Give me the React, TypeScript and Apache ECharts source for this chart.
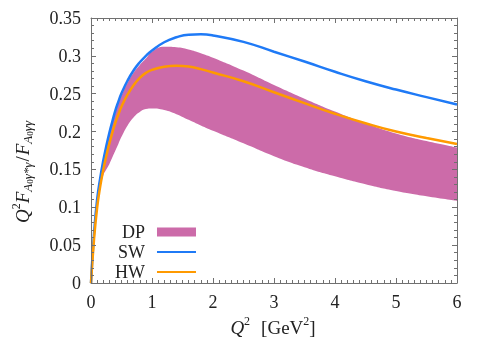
import React, { useEffect, useRef } from "react";
import * as echarts from "echarts";

// Q^2 sample points [GeV^2]
const q2 = [0, 0.05, 0.1, 0.15, 0.2, 0.25, 0.3, 0.35, 0.4, 0.45, 0.5, 0.6, 0.7, 0.8, 0.9, 1.0, 1.2, 1.4, 1.6, 1.8, 2.0, 2.5, 3.0, 3.5, 4.0, 4.5, 5.0, 5.5, 6.0];

// SW model
const sw = [0, 0.066, 0.11, 0.138, 0.161, 0.1805, 0.198, 0.2135, 0.228, 0.2398, 0.2505, 0.2675, 0.281, 0.2915, 0.3, 0.307, 0.318, 0.3245, 0.328, 0.3285, 0.327, 0.3185, 0.3055, 0.2925, 0.279, 0.2665, 0.2555, 0.2455, 0.2357];

// HW model
const hw = [0, 0.058, 0.099, 0.127, 0.149, 0.1675, 0.184, 0.1985, 0.212, 0.2228, 0.233, 0.249, 0.2615, 0.271, 0.2775, 0.2815, 0.2855, 0.2868, 0.2858, 0.2825, 0.278, 0.2665, 0.252, 0.2375, 0.2235, 0.211, 0.2, 0.1915, 0.1835];

// DP band: lower and upper edges
const dpLower = [0, 0.055, 0.095, 0.123, 0.142, 0.15, 0.157, 0.166, 0.175, 0.184, 0.193, 0.208, 0.219, 0.226, 0.2298, 0.2305, 0.2285, 0.223, 0.2155, 0.208, 0.201, 0.1845, 0.1675, 0.153, 0.141, 0.1305, 0.1215, 0.1145, 0.1085];
const dpUpper = [0, 0.062, 0.106, 0.135, 0.158, 0.1775, 0.195, 0.2105, 0.225, 0.237, 0.2475, 0.2645, 0.278, 0.288, 0.2965, 0.3055, 0.312, 0.3115, 0.3085, 0.3035, 0.2975, 0.2805, 0.2615, 0.2435, 0.2265, 0.211, 0.1975, 0.1875, 0.179];

const xTicks = [0, 1, 2, 3, 4, 5, 6];
const yTicks = [0, 0.05, 0.1, 0.15, 0.2, 0.25, 0.3, 0.35];

const PINK = "#cc6ba9";
const BLUE = "#1f7af6";
const ORANGE = "#ff9a00";
const FRAME = "#707070";
const TEXT = "#222";
const FONT = "'Liberation Serif', 'DejaVu Serif', serif";

export default function App() {
  const ref = useRef<HTMLDivElement>(null);

  useEffect(() => {
    if (!ref.current) return;
    const chart = echarts.init(ref.current, undefined, { renderer: "svg" });

    const axisCommon = (show: boolean, split: number) => ({
      z: 6,
      axisLine: { show: true, onZero: false, lineStyle: { color: FRAME, width: 1 } },
      axisTick: { show: true, inside: true, length: 5, lineStyle: { color: FRAME } },
      minorTick: { show: true, splitNumber: split, length: 3, lineStyle: { color: FRAME } },
      splitLine: { show: false },
      axisLabel: {
        show,
        color: TEXT,
        fontFamily: FONT,
        fontSize: 18,
        margin: 10,
        formatter: (v: number) => String(+v.toFixed(2)),
      },
    });

    const xMin = xTicks[0];
    const xMax = xTicks[xTicks.length - 1];
    const yMin = yTicks[0];
    const yMax = yTicks[yTicks.length - 1];

    const xy = (ys: number[]) => q2.map((x, i) => [x, ys[i]]);
    const lineCommon = { smooth: 0.5, symbol: "none" };

    chart.setOption({
      animation: false,
      grid: { left: 91, right: 34, top: 18, bottom: 60 },
      xAxis: [
        { type: "value", position: "bottom", min: xMin, max: xMax, interval: 1, ...axisCommon(true, 10) },
        { type: "value", position: "top", min: xMin, max: xMax, interval: 1, ...axisCommon(false, 10) },
      ],
      yAxis: [
        { type: "value", position: "left", min: yMin, max: yMax, interval: 0.05, ...axisCommon(true, 5) },
        { type: "value", position: "right", min: yMin, max: yMax, interval: 0.05, ...axisCommon(false, 5) },
      ],
      legend: {
        z: 7,
        orient: "vertical",
        align: "right",
        left: 115,
        top: 223,
        padding: 0,
        itemWidth: 39,
        itemHeight: 9,
        itemGap: 2,
        formatter: (name: string) => `{t|${name}}`,
        textStyle: {
          color: TEXT,
          fontFamily: FONT,
          fontSize: 18,
          rich: {
            t: { color: TEXT, fontFamily: FONT, fontSize: 18, lineHeight: 17, padding: [0, 7, 0, 0] },
          },
        },
        data: [
          { name: "DP", icon: "rect", itemStyle: { color: PINK } },
          { name: "SW", itemStyle: { opacity: 0 } },
          { name: "HW", itemStyle: { opacity: 0 } },
        ],
      },
      series: [
        {
          name: "DP",
          type: "line",
          data: xy(dpUpper),
          ...lineCommon,
          itemStyle: { color: PINK },
          lineStyle: { width: 0, opacity: 0 },
          areaStyle: { color: PINK, opacity: 1 },
          z: 1,
        },
        {
          name: "DP-lower",
          type: "line",
          data: xy(dpLower),
          ...lineCommon,
          silent: true,
          itemStyle: { color: "#ffffff" },
          lineStyle: { width: 0, opacity: 0 },
          areaStyle: { color: "#ffffff", opacity: 1 },
          z: 2,
        },
        {
          name: "SW",
          type: "line",
          data: xy(sw),
          ...lineCommon,
          itemStyle: { color: BLUE },
          lineStyle: { color: BLUE, width: 2.5 },
          z: 3,
        },
        {
          name: "HW",
          type: "line",
          data: xy(hw),
          ...lineCommon,
          itemStyle: { color: ORANGE },
          lineStyle: { color: ORANGE, width: 2.5 },
          z: 3,
        },
      ],
      graphic: [
        {
          type: "text",
          x: 273,
          y: 327,
          z: 8,
          style: {
            text: "{i|Q}{sup|2}{g|[GeV}{sup|2}{n|]}",
            align: "center",
            verticalAlign: "middle",
            fill: TEXT,
            rich: {
              i: { fontFamily: FONT, fontStyle: "italic", fontSize: 19, lineHeight: 24, verticalAlign: "middle", fill: TEXT },
              g: { fontFamily: FONT, fontSize: 19, lineHeight: 24, verticalAlign: "middle", fill: TEXT, padding: [0, 0, 0, 11] },
              n: { fontFamily: FONT, fontSize: 19, lineHeight: 24, verticalAlign: "middle", fill: TEXT },
              sup: { fontFamily: FONT, fontSize: 12, lineHeight: 12, verticalAlign: "top", fill: TEXT },
            },
          },
        },
        {
          type: "text",
          x: 22,
          y: 172,
          z: 8,
          rotation: Math.PI / 2,
          style: {
            text: "{i|Q}{sup|2}{i|F}{sub|A}{subn|0}{sub|γ*γ}{n|/}{i|F}{sub|A}{subn|0}{sub|γγ}",
            align: "center",
            verticalAlign: "middle",
            fill: TEXT,
            rich: {
              i: { fontFamily: FONT, fontStyle: "italic", fontSize: 19, lineHeight: 24, verticalAlign: "middle", fill: TEXT },
              n: { fontFamily: FONT, fontSize: 19, lineHeight: 24, verticalAlign: "middle", fill: TEXT, padding: [0, 1, 0, 1] },
              sup: { fontFamily: FONT, fontSize: 12, lineHeight: 12, verticalAlign: "top", fill: TEXT },
              sub: { fontFamily: FONT, fontStyle: "italic", fontSize: 13, lineHeight: 12, verticalAlign: "bottom", fill: TEXT },
              subn: { fontFamily: FONT, fontSize: 9, lineHeight: 9, verticalAlign: "bottom", fill: TEXT },
            },
          },
        },
      ],
    });

    return () => chart.dispose();
  }, []);

  return <div ref={ref} style={{ position: "fixed", left: 0, top: 0, width: 491, height: 343 }} />;
}
